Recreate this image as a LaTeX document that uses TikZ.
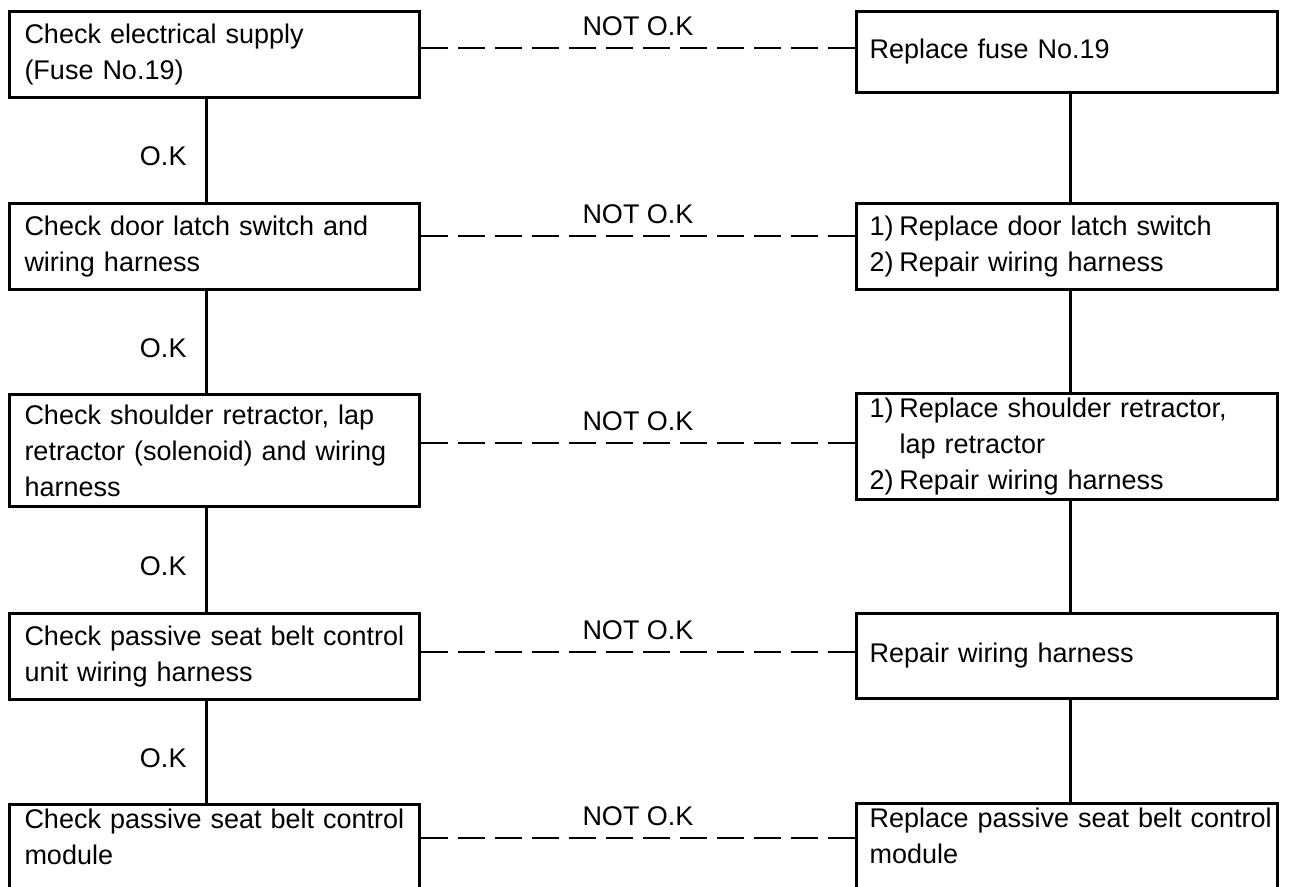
\documentclass[tikz,border=0pt]{standalone}
\usepackage{fontspec}
\setmainfont{Liberation Sans}
\begin{document}
\begin{tikzpicture}[x=1pt,y=-1pt,
  box/.style={draw, line width=3pt, anchor=north west, inner ysep=4pt, align=left,
              font=\fontsize{27}{36}\selectfont},
  lbox/.style={box, inner xsep=15pt, text width=380pt, minimum width=410pt},
  rbox/.style={box, inner xsep=13pt, text width=395pt, minimum width=421pt},
  link/.style={line width=3pt},
  notok/.style={line width=2.6pt, dash pattern=on 27pt off 10pt},
  lbl/.style={font=\fontsize{27}{30}\selectfont, inner sep=0pt}]
\path[use as bounding box] (0,0) rectangle (1292,886);
\clip (0,0) rectangle (1292,886);

% left column
\node[lbox, minimum height=86pt]  (L1) at (8,10)  {Check electrical supply\\(Fuse No.19)};
\node[lbox, minimum height=86pt]  (L2) at (8,202) {Check door latch switch and\\wiring harness};
\node[lbox, minimum height=112pt] (L3) at (8,393) {Check shoulder retractor, lap\\retractor (solenoid) and wiring\\harness};
\node[lbox, minimum height=86pt]  (L4) at (8,612) {Check passive seat belt control\\unit wiring harness};
\node[lbox] (L5) at (8,803) {Check passive seat belt control\\module\rule[-60pt]{0pt}{60pt}};

% right column
\node[rbox, minimum height=81pt]  (R1) at (855,10)  {Replace fuse No.19};
\node[rbox, minimum height=86pt]  (R2) at (855,202) {\makebox[30pt][l]{1)}Replace door latch switch\\\makebox[30pt][l]{2)}Repair wiring harness};
\node[rbox, minimum height=106pt] (R3) at (855,392) {\makebox[30pt][l]{1)}Replace shoulder retractor,\\\hspace*{30pt}lap retractor\\\makebox[30pt][l]{2)}Repair wiring harness};
\node[rbox, minimum height=85pt]  (R4) at (855,612) {Repair wiring harness};
\node[rbox] (R5) at (855,802) {\mbox{Replace passive seat belt control}\\module\rule[-60pt]{0pt}{60pt}};

% guide coordinates
\coordinate (vl) at (206,0);
\coordinate (vr) at (1070,0);
\coordinate (h1) at (0,48);
\coordinate (h2) at (0,236);
\coordinate (h3) at (0,443);
\coordinate (h4) at (0,652);
\coordinate (h5) at (0,838);

% O.K connectors
\draw[link] (L1.south -| vl) -- node[lbl, pos=0.56, anchor=east, xshift=-18pt] {O.K} (L2.north -| vl);
\draw[link] (L2.south -| vl) -- node[lbl, pos=0.56, anchor=east, xshift=-18pt] {O.K} (L3.north -| vl);
\draw[link] (L3.south -| vl) -- node[lbl, pos=0.56, anchor=east, xshift=-18pt] {O.K} (L4.north -| vl);
\draw[link] (L4.south -| vl) -- node[lbl, pos=0.56, anchor=east, xshift=-18pt] {O.K} (L5.north -| vl);

% right column connectors
\draw[link] (R1.south -| vr) -- (R2.north -| vr);
\draw[link] (R2.south -| vr) -- (R3.north -| vr);
\draw[link] (R3.south -| vr) -- (R4.north -| vr);
\draw[link] (R4.south -| vr) -- (R5.north -| vr);

% NOT O.K connectors
\draw[notok] (L1.east |- h1) -- node[lbl, above=11pt] {NOT O.K} (R1.west |- h1);
\draw[notok] (L2.east |- h2) -- node[lbl, above=11pt] {NOT O.K} (R2.west |- h2);
\draw[notok] (L3.east |- h3) -- node[lbl, above=11pt] {NOT O.K} (R3.west |- h3);
\draw[notok] (L4.east |- h4) -- node[lbl, above=11pt] {NOT O.K} (R4.west |- h4);
\draw[notok] (L5.east |- h5) -- node[lbl, above=11pt] {NOT O.K} (R5.west |- h5);
\end{tikzpicture}
\end{document}
